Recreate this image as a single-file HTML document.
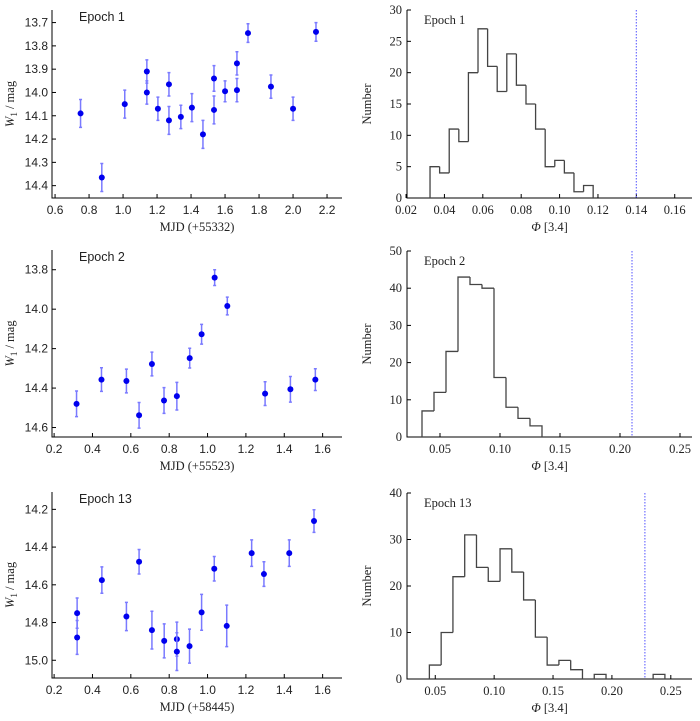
<!DOCTYPE html>
<html><head><meta charset="utf-8"><style>
body{margin:0;background:#fff}
svg{display:block}
.sans{font-family:"Liberation Sans",sans-serif}
.serif{font-family:"Liberation Serif",serif}
</style></head><body>
<svg id="fig" width="700" height="721" viewBox="0 0 700 721"></svg>
<script>
// ---- Light-curve data ----
const e1X=[0.75,0.875,1.01,1.14,1.14,1.205,1.27,1.27,1.34,1.405,1.47,1.535,1.535,1.60,1.67,1.67,1.735,1.87,2.0,2.135];
const e1Y=[14.09,14.365,14.05,13.91,14.0,14.07,13.965,14.12,14.105,14.065,14.18,13.94,14.075,13.995,13.875,13.99,13.745,13.975,14.07,13.74];
const e1E=[0.06,0.06,0.06,0.05,0.05,0.05,0.05,0.06,0.05,0.06,0.06,0.055,0.06,0.045,0.05,0.05,0.04,0.05,0.05,0.04];
const e2X=[0.317,0.447,0.577,0.643,0.71,0.773,0.84,0.907,0.969,1.037,1.103,1.30,1.432,1.562];
const e2Y=[14.48,14.357,14.364,14.538,14.278,14.463,14.441,14.248,14.127,13.84,13.984,14.428,14.406,14.357];
const e2E=[0.065,0.06,0.06,0.065,0.06,0.065,0.07,0.05,0.05,0.04,0.045,0.06,0.065,0.055];
const e13X=[0.32,0.32,0.449,0.577,0.643,0.71,0.774,0.84,0.84,0.906,0.969,1.035,1.10,1.23,1.294,1.426,1.555];
const e13Y=[14.75,14.879,14.575,14.768,14.478,14.84,14.897,14.888,14.954,14.925,14.746,14.515,14.818,14.432,14.543,14.432,14.262];
const e13E=[0.08,0.09,0.07,0.075,0.065,0.1,0.09,0.09,0.1,0.09,0.095,0.065,0.11,0.07,0.065,0.07,0.06];
// ---- Histogram data ----
const h1Counts=[5,4,11,9,20,27,21,17,23,18,15,11,5,6,4,1,2];
const h1Start=0.0325, h1Width=0.005, h1Line=0.14;
const h2Counts=[7,12,23,43,41,40,16,8,5,3];
const h2Start=0.035, h2Width=0.01, h2Line=0.21;
const h3Counts=[3,10,22,31,24,21,28,23,17,9,3,4,2,0,1,0,0,0,0,1];
const h3Start=0.045, h3Width=0.01, h3Line=0.228;
// ---- Tick labels ----
const lc1XTicks=["0.6","0.8","1.0","1.2","1.4","1.6","1.8","2.0","2.2"];
const lc1YTicks=["13.7","13.8","13.9","14.0","14.1","14.2","14.3","14.4"];
const lc2XTicks=["0.2","0.4","0.6","0.8","1.0","1.2","1.4","1.6"];
const lc2YTicks=["13.8","14.0","14.2","14.4","14.6"];
const lc3YTicks=["14.2","14.4","14.6","14.8","15.0"];
const h1XTicks=["0.02","0.04","0.06","0.08","0.10","0.12","0.14","0.16"];
const h1YTicks=["0","5","10","15","20","25","30"];
const h2XTicks=["0.05","0.10","0.15","0.20","0.25"];
const h2YTicks=["0","10","20","30","40","50"];
const h3YTicks=["0","10","20","30","40"];

const NS="http://www.w3.org/2000/svg";
const svg=document.getElementById('fig');
function mk(tag,attrs,parent){const e=document.createElementNS(NS,tag);for(const k in attrs)e.setAttribute(k,attrs[k]);(parent||svg).appendChild(e);return e;}

function lcPanel(name,box,xd,yd,xt,yt,X,Y,E,label,xtitle){
  const g=mk('g',{});
  
  
  const sx=v=>box.l+(v-xd[0])/(xd[1]-xd[0])*(box.r-box.l);
  const sy=v=>box.t+(v-yd[0])/(yd[1]-yd[0])*(box.b-box.t);
  const ax=mk('path',{d:`M${box.l},${box.t}V${box.b}H${box.r}`,stroke:'#000','stroke-width':1,fill:'none'},g);
  
  
  xt.forEach(t=>{const x=sx(+t);mk('line',{x1:x,x2:x,y1:box.b,y2:box.b-4,stroke:'#000'},g);
    const tx=mk('text',{x:x,y:box.b+16,'text-anchor':'middle','font-size':12,class:'sans',fill:'#222'},g);tx.textContent=t;
    
    });
  yt.forEach(t=>{const y=sy(+t);mk('line',{x1:box.l,x2:box.l+4,y1:y,y2:y,stroke:'#000'},g);
    const tx=mk('text',{x:box.l-4,y:y+4,'text-anchor':'end','font-size':12,class:'sans',fill:'#222'},g);tx.textContent=t;
    
    });
  X.forEach((v,i)=>{const x=sx(v),y=sy(Y[i]),y1=sy(Y[i]-E[i]),y2=sy(Y[i]+E[i]);
    const eb=mk('path',{d:`M${x},${y1}V${y2}M${x-1.5},${y1}h3M${x-1.5},${y2}h3`,stroke:'#7a7aff','stroke-width':1.5,fill:'none'},g);
    
    
    const c=mk('circle',{cx:x,cy:y,r:3,fill:'#0000ee'},g);
    
    });
  const lb=mk('text',{x:box.l+27,y:box.t+11,'font-size':12.5,class:'sans',fill:'#222'},g);lb.textContent=label;
  
  
  const xtl=mk('text',{x:(box.l+box.r)/2,y:box.b+33,'text-anchor':'middle','font-size':12.5,class:'serif',fill:'#222'},g);xtl.textContent=xtitle;
  
  
  const cy=(box.t+box.b)/2;
  const ytl=mk('text',{x:14,y:cy,transform:`rotate(-90 14 ${cy})`,'text-anchor':'middle','font-size':12.5,class:'serif',fill:'#222'},g);
  ytl.innerHTML='<tspan font-style="italic">W</tspan><tspan font-size="9" dy="3">1</tspan><tspan dy="-3"> / mag</tspan>';
  
  
}

function histPanel(name,box,xd,yd,xt,yt,counts,start,w,line,label){
  const g=mk('g',{});
  
  
  const sx=v=>box.l+(v-xd[0])/(xd[1]-xd[0])*(box.r-box.l);
  const sy=v=>box.b-(v-yd[0])/(yd[1]-yd[0])*(box.b-box.t);
  const ax=mk('path',{d:`M${box.l},${box.t}V${box.b}H${box.r}`,stroke:'#000','stroke-width':1,fill:'none'},g);
  
  
  xt.forEach(t=>{const x=sx(+t);mk('line',{x1:x,x2:x,y1:box.b,y2:box.b-4,stroke:'#000'},g);
    const tx=mk('text',{x:x,y:box.b+16,'text-anchor':'middle','font-size':12.5,class:'serif',fill:'#222'},g);tx.textContent=t;
    
    });
  yt.forEach(t=>{const y=sy(+t);mk('line',{x1:box.l,x2:box.l+4,y1:y,y2:y,stroke:'#000'},g);
    const tx=mk('text',{x:box.l-5,y:y+4,'text-anchor':'end','font-size':12.5,class:'serif',fill:'#222'},g);tx.textContent=t;
    
    });
  // step outline
  let d='';let prev=0;
  counts.forEach((c,i)=>{const x0=sx(start+i*w),x1=sx(start+(i+1)*w);
    if(c===0&&prev===0){prev=0;return;}
    d+=`M${x0},${sy(prev)}V${sy(c)}H${x1}`;
    if(i===counts.length-1||true){}
    prev=c;
    if(c>0&&(i===counts.length-1||counts[i+1]===0)){d+=`V${sy(0)}`;prev=0;}
  });
  const st=mk('path',{d:d,stroke:'#444','stroke-width':1.3,fill:'none'},g);
  
  
  const lx=sx(line);
  const dl=mk('line',{x1:lx,x2:lx,y1:box.t,y2:box.b,stroke:'#6f6fff','stroke-width':1.2,'stroke-dasharray':'1.5 1.5'},g);
  
  
  const lb=mk('text',{x:box.l+17,y:box.t+14,'font-size':12.5,class:'serif',fill:'#222'},g);lb.textContent=label;
  
  
  const xtl=mk('text',{x:(box.l+box.r)/2,y:box.b+33,'text-anchor':'middle','font-size':12.5,class:'serif',fill:'#222'},g);
  xtl.innerHTML='<tspan font-style="italic">Φ</tspan> [3.4]';
  
  
  const cy=(box.t+box.b)/2;
  const ytl=mk('text',{x:371,y:cy,transform:`rotate(-90 371 ${cy})`,'text-anchor':'middle','font-size':12.5,class:'serif',fill:'#222'},g);ytl.textContent='Number';
  
  
}

lcPanel('lightcurve-epoch-1',{l:52,r:342,t:10,b:198},[0.582,2.288],[13.646,14.453],lc1XTicks,lc1YTicks,e1X,e1Y,e1E,'Epoch 1','MJD (+55332)');
lcPanel('lightcurve-epoch-2',{l:52,r:342,t:250,b:437},[0.189,1.701],[13.70,14.648],lc2XTicks,lc2YTicks,e2X,e2Y,e2E,'Epoch 2','MJD (+55523)');
lcPanel('lightcurve-epoch-13',{l:52,r:342,t:492,b:678},[0.189,1.701],[14.108,15.094],lc2XTicks,lc3YTicks,e13X,e13Y,e13E,'Epoch 13','MJD (+58445)');
histPanel('histogram-epoch-1',{l:407,r:692,t:10,b:198},[0.0205,0.169],[0,30],h1XTicks,h1YTicks,h1Counts,h1Start,h1Width,h1Line,'Epoch 1');
histPanel('histogram-epoch-2',{l:407,r:692,t:251,b:437},[0.0225,0.260],[0,50],h2XTicks,h2YTicks,h2Counts,h2Start,h2Width,h2Line,'Epoch 2');
histPanel('histogram-epoch-13',{l:407,r:692,t:493,b:679},[0.026,0.268],[0,40],h2XTicks,h3YTicks,h3Counts,h3Start,h3Width,h3Line,'Epoch 13');
</script>
</body></html>
